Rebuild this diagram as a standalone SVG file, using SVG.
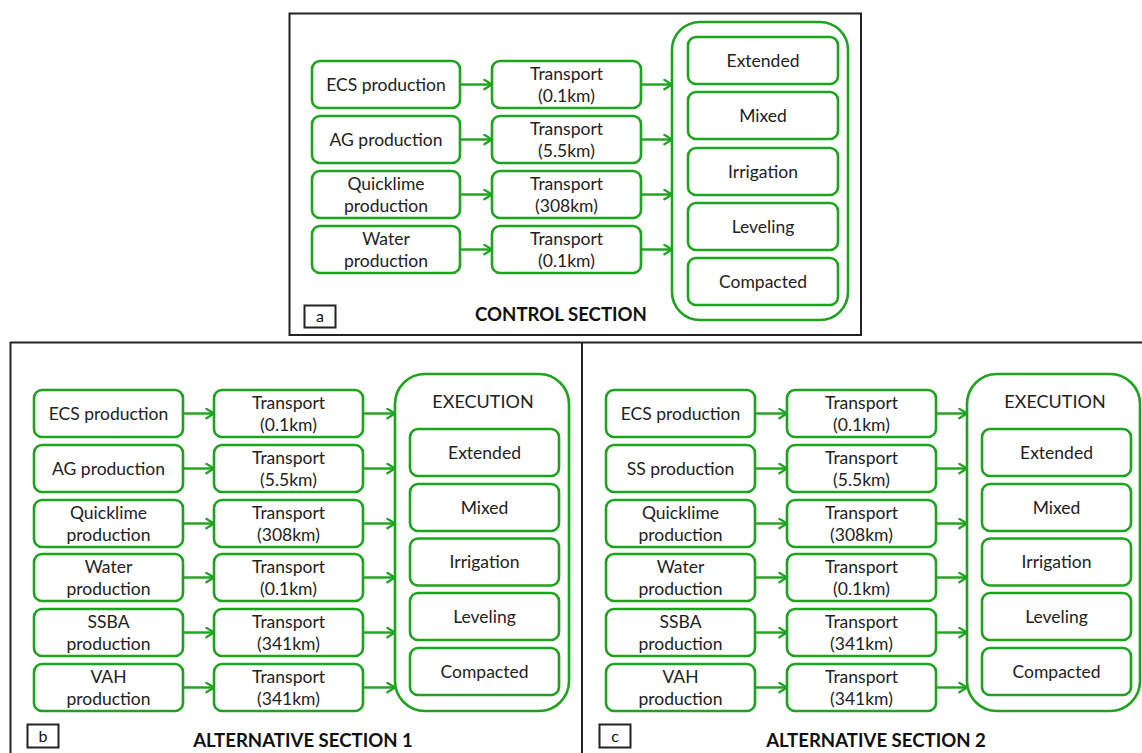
<svg xmlns="http://www.w3.org/2000/svg" width="1142" height="753" viewBox="0 0 1142 753">
<defs>
<style>
.n{fill:#fff;stroke:#1ea31e;stroke-width:2.6}
.o{fill:#fff;stroke:#1ea31e;stroke-width:2.6}
.t{font-family:Lato,"Liberation Sans",Arial,sans-serif;font-size:17.5px;fill:#222;text-anchor:middle}
.h{font-family:Lato,"Liberation Sans",Arial,sans-serif;font-size:18px;fill:#222;text-anchor:middle}
.ti{font-family:Lato,"Liberation Sans",Arial,sans-serif;font-size:18.6px;font-weight:bold;fill:#111;text-anchor:middle}
.lb{font-family:Lato,"Liberation Sans",Arial,sans-serif;font-size:16px;fill:#111;text-anchor:middle}
.fr{fill:none;stroke:#222;stroke-width:2}
.c{stroke:#1ea31e;stroke-width:2.4;fill:none;marker-end:url(#ah)}
</style>
<marker id="ah" viewBox="0 0 10 12" refX="9.5" refY="6" markerWidth="10" markerHeight="12" markerUnits="userSpaceOnUse" orient="auto">
<path d="M1,0.8 L9.5,6 L1,11.2" fill="none" stroke="#1ea31e" stroke-width="2.2"/>
</marker>
</defs>
<rect width="1142" height="753" fill="#fff"/>

<!-- frames -->
<g id="frames">
<rect class="fr" x="289.5" y="13.5" width="571.5" height="321.5"/>
<line class="fr" x1="10" y1="342.5" x2="1142" y2="342.5"/>
<line class="fr" x1="10.5" y1="342" x2="10.5" y2="753"/>
<line class="fr" x1="582" y1="342" x2="582" y2="753"/>
</g>

<!-- Panel a -->
<g id="panel-a">
<g id="a-ecs"><rect class="n" x="312" y="61" width="148" height="47" rx="8"/><text class="t" x="386" y="90.5">ECS production</text></g>
<g id="a-ag"><rect class="n" x="312" y="116" width="148" height="47" rx="8"/><text class="t" x="386" y="145.5">AG production</text></g>
<g id="a-quick"><rect class="n" x="312" y="171" width="148" height="47" rx="8"/><text class="t" x="386" y="189.5">Quicklime</text><text class="t" x="386" y="211.5">production</text></g>
<g id="a-water"><rect class="n" x="312" y="226" width="148" height="47" rx="8"/><text class="t" x="386" y="244.5">Water</text><text class="t" x="386" y="266.5">production</text></g>
<g id="a-t1"><rect class="n" x="492" y="61" width="149" height="47" rx="8"/><text class="t" x="566.5" y="79.5">Transport</text><text class="t" x="566.5" y="101.5">(0.1km)</text></g>
<g id="a-t2"><rect class="n" x="492" y="116" width="149" height="47" rx="8"/><text class="t" x="566.5" y="134.5">Transport</text><text class="t" x="566.5" y="156.5">(5.5km)</text></g>
<g id="a-t3"><rect class="n" x="492" y="171" width="149" height="47" rx="8"/><text class="t" x="566.5" y="189.5">Transport</text><text class="t" x="566.5" y="211.5">(308km)</text></g>
<g id="a-t4"><rect class="n" x="492" y="226" width="149" height="47" rx="8"/><text class="t" x="566.5" y="244.5">Transport</text><text class="t" x="566.5" y="266.5">(0.1km)</text></g>
<g id="a-exec">
<rect class="o" x="672" y="22" width="176" height="298" rx="28"/>
<g id="a-ext"><rect class="n" x="688" y="37" width="150" height="47" rx="8"/><text class="t" x="763" y="66.5">Extended</text></g>
<g id="a-mix"><rect class="n" x="688" y="92" width="150" height="47" rx="8"/><text class="t" x="763" y="121.5">Mixed</text></g>
<g id="a-irr"><rect class="n" x="688" y="148" width="150" height="47" rx="8"/><text class="t" x="763" y="177.5">Irrigation</text></g>
<g id="a-lev"><rect class="n" x="688" y="203" width="150" height="47" rx="8"/><text class="t" x="763" y="232.5">Leveling</text></g>
<g id="a-com"><rect class="n" x="688" y="258" width="150" height="47" rx="8"/><text class="t" x="763" y="287.5">Compacted</text></g>
</g>
<g id="a-label"><rect class="fr" x="304.5" y="305.5" width="31" height="22"/><text class="lb" x="320" y="322">a</text></g>
<text class="ti" x="561" y="321">CONTROL SECTION</text>
</g>

<!-- Panel b -->
<g id="panel-b">
<g id="b-ecs"><rect class="n" x="34" y="390" width="149" height="47" rx="8"/><text class="t" x="108.5" y="419.5">ECS production</text></g>
<g id="b-ag"><rect class="n" x="34" y="445" width="149" height="47" rx="8"/><text class="t" x="108.5" y="474.5">AG production</text></g>
<g id="b-quick"><rect class="n" x="34" y="500" width="149" height="47" rx="8"/><text class="t" x="108.5" y="518.5">Quicklime</text><text class="t" x="108.5" y="540.5">production</text></g>
<g id="b-water"><rect class="n" x="34" y="554" width="149" height="47" rx="8"/><text class="t" x="108.5" y="572.5">Water</text><text class="t" x="108.5" y="594.5">production</text></g>
<g id="b-ssba"><rect class="n" x="34" y="609" width="149" height="47" rx="8"/><text class="t" x="108.5" y="627.5">SSBA</text><text class="t" x="108.5" y="649.5">production</text></g>
<g id="b-vah"><rect class="n" x="34" y="664" width="149" height="47" rx="8"/><text class="t" x="108.5" y="682.5">VAH</text><text class="t" x="108.5" y="704.5">production</text></g>
<g id="b-t1"><rect class="n" x="214" y="390" width="149" height="47" rx="8"/><text class="t" x="288.5" y="408.5">Transport</text><text class="t" x="288.5" y="430.5">(0.1km)</text></g>
<g id="b-t2"><rect class="n" x="214" y="445" width="149" height="47" rx="8"/><text class="t" x="288.5" y="463.5">Transport</text><text class="t" x="288.5" y="485.5">(5.5km)</text></g>
<g id="b-t3"><rect class="n" x="214" y="500" width="149" height="47" rx="8"/><text class="t" x="288.5" y="518.5">Transport</text><text class="t" x="288.5" y="540.5">(308km)</text></g>
<g id="b-t4"><rect class="n" x="214" y="554" width="149" height="47" rx="8"/><text class="t" x="288.5" y="572.5">Transport</text><text class="t" x="288.5" y="594.5">(0.1km)</text></g>
<g id="b-t5"><rect class="n" x="214" y="609" width="149" height="47" rx="8"/><text class="t" x="288.5" y="627.5">Transport</text><text class="t" x="288.5" y="649.5">(341km)</text></g>
<g id="b-t6"><rect class="n" x="214" y="664" width="149" height="47" rx="8"/><text class="t" x="288.5" y="682.5">Transport</text><text class="t" x="288.5" y="704.5">(341km)</text></g>
<g id="b-exec">
<rect class="o" x="395" y="374" width="174" height="337" rx="30"/>
<text class="h" x="483" y="408">EXECUTION</text>
<g id="b-ext"><rect class="n" x="410" y="429" width="149" height="47" rx="8"/><text class="t" x="484.5" y="458.5">Extended</text></g>
<g id="b-mix"><rect class="n" x="410" y="484" width="149" height="47" rx="8"/><text class="t" x="484.5" y="513.5">Mixed</text></g>
<g id="b-irr"><rect class="n" x="410" y="538.5" width="149" height="47" rx="8"/><text class="t" x="484.5" y="568">Irrigation</text></g>
<g id="b-lev"><rect class="n" x="410" y="593" width="149" height="47" rx="8"/><text class="t" x="484.5" y="622.5">Leveling</text></g>
<g id="b-com"><rect class="n" x="410" y="648" width="149" height="47" rx="8"/><text class="t" x="484.5" y="677.5">Compacted</text></g>
</g>
<g id="b-label"><rect class="fr" x="27.5" y="724.5" width="31" height="23"/><text class="lb" x="43" y="742">b</text></g>
<text class="ti" x="303" y="747">ALTERNATIVE SECTION 1</text>
</g>

<!-- Panel c -->
<g id="panel-c">
<g id="c-ecs"><rect class="n" x="606" y="390" width="149" height="47" rx="8"/><text class="t" x="680.5" y="419.5">ECS production</text></g>
<g id="c-ss"><rect class="n" x="606" y="445" width="149" height="47" rx="8"/><text class="t" x="680.5" y="474.5">SS production</text></g>
<g id="c-quick"><rect class="n" x="606" y="500" width="149" height="47" rx="8"/><text class="t" x="680.5" y="518.5">Quicklime</text><text class="t" x="680.5" y="540.5">production</text></g>
<g id="c-water"><rect class="n" x="606" y="554" width="149" height="47" rx="8"/><text class="t" x="680.5" y="572.5">Water</text><text class="t" x="680.5" y="594.5">production</text></g>
<g id="c-ssba"><rect class="n" x="606" y="609" width="149" height="47" rx="8"/><text class="t" x="680.5" y="627.5">SSBA</text><text class="t" x="680.5" y="649.5">production</text></g>
<g id="c-vah"><rect class="n" x="606" y="664" width="149" height="47" rx="8"/><text class="t" x="680.5" y="682.5">VAH</text><text class="t" x="680.5" y="704.5">production</text></g>
<g id="c-t1"><rect class="n" x="787" y="390" width="149" height="47" rx="8"/><text class="t" x="861.5" y="408.5">Transport</text><text class="t" x="861.5" y="430.5">(0.1km)</text></g>
<g id="c-t2"><rect class="n" x="787" y="445" width="149" height="47" rx="8"/><text class="t" x="861.5" y="463.5">Transport</text><text class="t" x="861.5" y="485.5">(5.5km)</text></g>
<g id="c-t3"><rect class="n" x="787" y="500" width="149" height="47" rx="8"/><text class="t" x="861.5" y="518.5">Transport</text><text class="t" x="861.5" y="540.5">(308km)</text></g>
<g id="c-t4"><rect class="n" x="787" y="554" width="149" height="47" rx="8"/><text class="t" x="861.5" y="572.5">Transport</text><text class="t" x="861.5" y="594.5">(0.1km)</text></g>
<g id="c-t5"><rect class="n" x="787" y="609" width="149" height="47" rx="8"/><text class="t" x="861.5" y="627.5">Transport</text><text class="t" x="861.5" y="649.5">(341km)</text></g>
<g id="c-t6"><rect class="n" x="787" y="664" width="149" height="47" rx="8"/><text class="t" x="861.5" y="682.5">Transport</text><text class="t" x="861.5" y="704.5">(341km)</text></g>
<g id="c-exec">
<rect class="o" x="967" y="374" width="173" height="337" rx="30"/>
<text class="h" x="1055" y="408">EXECUTION</text>
<g id="c-ext"><rect class="n" x="982" y="429" width="149" height="47" rx="8"/><text class="t" x="1056.5" y="458.5">Extended</text></g>
<g id="c-mix"><rect class="n" x="982" y="484" width="149" height="47" rx="8"/><text class="t" x="1056.5" y="513.5">Mixed</text></g>
<g id="c-irr"><rect class="n" x="982" y="538.5" width="149" height="47" rx="8"/><text class="t" x="1056.5" y="568">Irrigation</text></g>
<g id="c-lev"><rect class="n" x="982" y="593" width="149" height="47" rx="8"/><text class="t" x="1056.5" y="622.5">Leveling</text></g>
<g id="c-com"><rect class="n" x="982" y="648" width="149" height="47" rx="8"/><text class="t" x="1056.5" y="677.5">Compacted</text></g>
</g>
<g id="c-label"><rect class="fr" x="599.5" y="724.5" width="31" height="23"/><text class="lb" x="615" y="742">c</text></g>
<text class="ti" x="876" y="747">ALTERNATIVE SECTION 2</text>
</g>

<!-- connectors -->
<g id="connectors">
<line class="c" x1="460" y1="84.5" x2="492" y2="84.5"/>
<line class="c" x1="460" y1="139.5" x2="492" y2="139.5"/>
<line class="c" x1="460" y1="194.5" x2="492" y2="194.5"/>
<line class="c" x1="460" y1="249.5" x2="492" y2="249.5"/>
<line class="c" x1="641" y1="84.5" x2="672" y2="84.5"/>
<line class="c" x1="641" y1="139.5" x2="672" y2="139.5"/>
<line class="c" x1="641" y1="194.5" x2="672" y2="194.5"/>
<line class="c" x1="641" y1="249.5" x2="672" y2="249.5"/>

<line class="c" x1="183" y1="413.5" x2="214" y2="413.5"/>
<line class="c" x1="183" y1="468.5" x2="214" y2="468.5"/>
<line class="c" x1="183" y1="523.5" x2="214" y2="523.5"/>
<line class="c" x1="183" y1="577.5" x2="214" y2="577.5"/>
<line class="c" x1="183" y1="632.5" x2="214" y2="632.5"/>
<line class="c" x1="183" y1="687.5" x2="214" y2="687.5"/>
<line class="c" x1="363" y1="413.5" x2="395" y2="413.5"/>
<line class="c" x1="363" y1="468.5" x2="395" y2="468.5"/>
<line class="c" x1="363" y1="523.5" x2="395" y2="523.5"/>
<line class="c" x1="363" y1="577.5" x2="395" y2="577.5"/>
<line class="c" x1="363" y1="632.5" x2="395" y2="632.5"/>
<line class="c" x1="363" y1="687.5" x2="395" y2="687.5"/>

<line class="c" x1="755" y1="413.5" x2="787" y2="413.5"/>
<line class="c" x1="755" y1="468.5" x2="787" y2="468.5"/>
<line class="c" x1="755" y1="523.5" x2="787" y2="523.5"/>
<line class="c" x1="755" y1="577.5" x2="787" y2="577.5"/>
<line class="c" x1="755" y1="632.5" x2="787" y2="632.5"/>
<line class="c" x1="755" y1="687.5" x2="787" y2="687.5"/>
<line class="c" x1="936" y1="413.5" x2="967" y2="413.5"/>
<line class="c" x1="936" y1="468.5" x2="967" y2="468.5"/>
<line class="c" x1="936" y1="523.5" x2="967" y2="523.5"/>
<line class="c" x1="936" y1="577.5" x2="967" y2="577.5"/>
<line class="c" x1="936" y1="632.5" x2="967" y2="632.5"/>
<line class="c" x1="936" y1="687.5" x2="967" y2="687.5"/>
</g>
</svg>
